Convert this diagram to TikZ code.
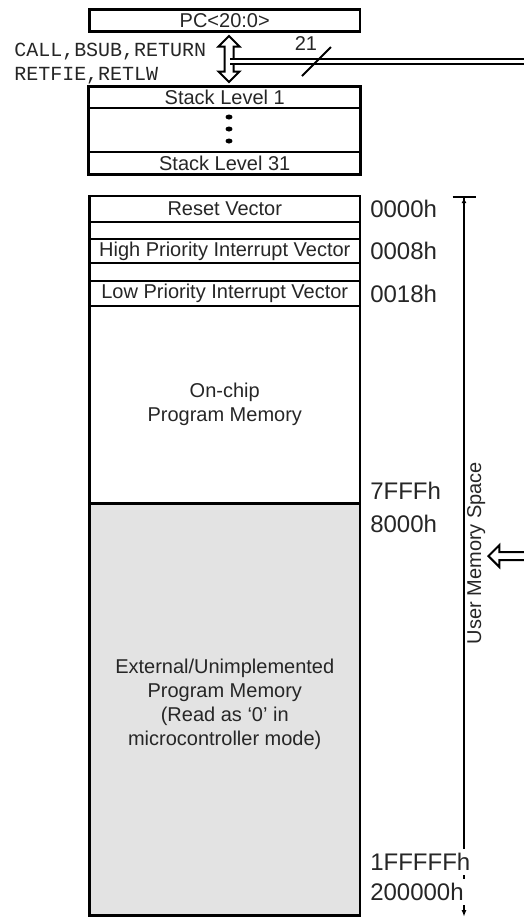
\documentclass[tikz,border=0pt]{standalone}
\usepackage{fontspec}
\setmainfont{Liberation Sans}
\setmonofont{Liberation Mono}
\usetikzlibrary{arrows.meta,shapes.arrows}
\definecolor{extgray}{gray}{0.89}

\begin{document}
\begin{tikzpicture}[x=1pt,y=-1pt,>=Latex,line width=2.5pt,
  box/.style={draw,line width=2.5pt,minimum width=270.5pt,inner sep=0pt,
    align=center,font=\fontsize{20}{24}\selectfont,text=black!85},
  addr/.style={anchor=west,fill=white,inner xsep=3pt,inner ysep=4pt,
    font=\fontsize{24}{28}\selectfont,text=black!85},
  bus/.style={draw,line width=2pt,fill=white,inner xsep=0pt},
  busline/.style={double=white,double distance=3.5pt,line width=1.8pt}]
\useasboundingbox (0,0) rectangle (523,919);
\node[box,minimum height=22pt] (pc) at (224.75,20.5) {PC<20:0>};
\node[box,line width=1.5pt,minimum height=21pt] (stk1) at (224.75,97.5) {Stack Level 1};
\node[box,line width=1.5pt,minimum height=44pt] (stkdots) at (224.75,130) {};
\node[box,line width=1.5pt,minimum height=22pt] (stk31) at (224.75,163) {Stack Level 31};
\draw[line width=2.8pt] (stk1.north west) rectangle (stk31.south east);
\foreach \y in {117,129,141}
  \fill (229,\y) ellipse (3.5pt and 2.5pt);
\node[anchor=west,inner sep=0pt,align=left,text=black!85,
  font=\ttfamily\fontsize{20}{24}\selectfont] (retops) at (13,64)
  {CALL,BSUB,RETURN\\RETFIE,RETLW};
\node[bus,double arrow,double arrow head extend=6pt,inner ysep=3.5pt,
  minimum height=46pt,rotate=90] (pcbus) at (229,59) {};
\coordinate (busend) at (530,61.5);
\draw[busline] (pcbus.center |- busend) ++(1,0) -- (busend);
\draw[line width=2pt] (302,76) -- (331,47);
\node[inner sep=0pt,font=\fontsize{20}{22}\selectfont,text=black!85] (buswidth) at (306,44) {21};
\node[box,minimum height=26pt] (reset) at (224.75,209) {Reset Vector};
\node[box,minimum height=17pt] (gapa) at (224.75,230.5) {};
\node[box,minimum height=24pt] (hiint) at (224.75,251) {High Priority Interrupt Vector};
\node[box,minimum height=18pt] (gapb) at (224.75,272) {};
\node[box,minimum height=25pt] (loint) at (224.75,293.5) {Low Priority Interrupt Vector};
\node[box,minimum height=197pt] (onchip) at (224.75,404.5) {On-chip\\Program Memory};
\node[box,fill=extgray,minimum height=411.5pt] (extmem) at (224.75,709.75)
  {External/Unimplemented\\Program Memory\\(Read as `0' in\\microcontroller mode)\\[-8pt]};
\coordinate (umtop) at (464,196);
\coordinate (umbot) at (464,917);
\draw[line width=2pt,{Bar[width=23pt]Latex[length=5pt,width=5pt]}-{Latex[length=7pt,width=5pt]}] (umtop) -- (umbot);
\node[rotate=90,anchor=north,inner sep=0pt,font=\fontsize{20}{24}\selectfont,text=black!85]
  (umlabel) at (466,553) {User Memory Space};
\node[bus,single arrow,single arrow head extend=7pt,inner ysep=3pt,
  minimum height=45pt,rotate=180,anchor=tip] (umbus) at (487,556) {};
\foreach \a/\y in {0000h/209,0008h/251,0018h/294,7FFFh/491,8000h/524,1FFFFFh/862,200000h/892}
  \node[addr] (a\a) at (366,\y) {\a};
\end{tikzpicture}
\end{document}
